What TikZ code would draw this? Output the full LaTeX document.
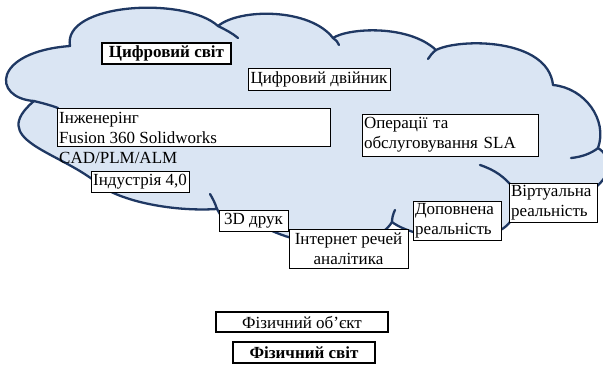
\documentclass[tikz,border=0pt]{standalone}
\usepackage{fontspec}
\setmainfont{Liberation Serif}[BoldFont={Liberation Serif Bold}]
\definecolor{cloudfill}{HTML}{DAE5F3}
\definecolor{cloudline}{HTML}{1F3863}
\newcommand\boxfont{\fontsize{17}{20}\selectfont}
\tikzset{
  cloudshape/.style={fill=cloudfill, draw=cloudline, line width=2.3pt, line join=round},
  cloudinner/.style={draw=cloudline, line width=2.3pt, line cap=round},
  box/.style={draw=black, line width=0.8pt, fill=white, inner sep=2pt, outer sep=0pt,
    anchor=north west, font=\boxfont},
  boldbox/.style={box, line width=2.4pt},
  midbox/.style={box, line width=1.5pt},
  plaintext/.style={inner sep=2pt, anchor=north west, font=\boxfont, align=left}
}
\begin{document}
\begin{tikzpicture}[x=1pt,y=-1pt]
\useasboundingbox (0,0) rectangle (603,367);
% cloud outline
\path[cloudshape] (34,101)
  .. controls (-8,98) and (-8,52) .. (70,46)
  .. controls (62,3) and (185,-4) .. (218,26)
  .. controls (240,8) and (310,8) .. (333,38)
  .. controls (348,28) and (408,24) .. (436,50)
  .. controls (460,38) and (548,38) .. (553,85)
  .. controls (585,88) and (608,120) .. (598,148)
  .. controls (625,165) and (600,210) .. (515,205)
  .. controls (515,225) and (500,236) .. (470,236)
  .. controls (440,242) and (405,232) .. (392,222)
  .. controls (375,250) and (310,252) .. (262,226)
  .. controls (245,230) and (222,222) .. (217,209)
  .. controls (170,212) and (115,200) .. (96,182)
  .. controls (55,150) and (-12,140) .. (34,101) -- cycle;
% inner arcs of the cloud
\draw[cloudinner] (34,101) .. controls (42,103) and (50,105) .. (58,108);
\draw[cloudinner] (218,26) .. controls (226,30) and (232,33) .. (238,38);
\draw[cloudinner] (333,38) .. controls (336,40) and (338,42) .. (339,45);
\draw[cloudinner] (436,50) .. controls (432,53) and (430,56) .. (428,59);
\draw[cloudinner] (598,148) .. controls (592,153) and (582,157) .. (571,158);
\draw[cloudinner] (480,165) .. controls (495,170) and (505,177) .. (515,190);
\draw[cloudinner] (392,222) .. controls (392,218) and (393,214) .. (395,210);
\draw[cloudinner] (217,209) .. controls (215,203) and (213,199) .. (210,194);
% boxes
\node[boldbox, minimum width=129pt, minimum height=21pt, align=center] (cs) at (102,43) {\textbf{Цифровий світ}};
\node[box, minimum width=142pt, minimum height=22pt, align=center] (cd) at (248,68) {Цифровий двійник};
\node[box, minimum width=273pt, minimum height=38pt] (eng) at (57,108) {};
\node[plaintext] (engt) at (57,110) {Інженерінг\\Fusion 360 Solidworks\\CAD/PLM/ALM};
\node[box, minimum width=176pt, minimum height=42pt, text width=172pt, align=left] (op) at (362,114) {Операції та\\обслуговування SLA};
\node[box, minimum width=98pt, minimum height=21pt, align=center] (ind) at (91,171) {Індустрія 4,0};
\node[box, minimum width=69pt, minimum height=21pt, align=center] (d3) at (219,210) {3D друк};
\node[box, minimum width=119pt, minimum height=39pt, align=center] (iot) at (289,229) {Інтернет речей\\аналітика};
\node[box, minimum width=88pt, minimum height=39pt, text width=84pt, align=left] (ar) at (413,201) {Доповнена\\реальність};
\node[box, minimum width=88pt, minimum height=39pt, text width=84pt, align=left] (vr) at (509,183) {Віртуальна\\реальність};
\node[midbox, minimum width=172pt, minimum height=20pt, align=center] (fo) at (216,312) {Фізичний об’єкт};
\node[boldbox, minimum width=142pt, minimum height=21pt, align=center] (fs) at (233,342) {\textbf{Фізичний світ}};
\end{tikzpicture}
\end{document}
